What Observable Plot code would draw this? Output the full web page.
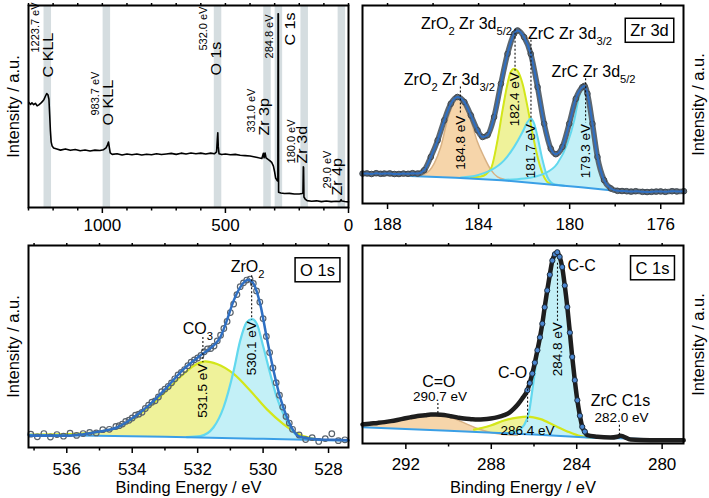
<!DOCTYPE html>
<html><head><meta charset="utf-8">
<script src="https://cdn.jsdelivr.net/npm/d3@7"></script>
<script src="https://cdn.jsdelivr.net/npm/@observablehq/plot@0.6"></script>
<style>
body{margin:0;background:#fff;}
#root{position:relative;width:709px;height:498px;background:#fff;overflow:hidden;}
#root svg{position:absolute;}
</style></head><body><div id="root"></div>
<script>
// ---------------- DATA ----------------
// Survey spectrum [binding energy eV, intensity a.u. (0-100)]
const surveySpectrum = [
[1299,52.1],[1292,51.0],[1286,51.8],[1279,50.9],[1272,51.6],[1265,50.3],[1258,50.8],[1251,51.5],[1244,52.4],[1237,53.5],
[1231,55.2],[1226,56.4],[1221,55.8],[1217,53.6],[1214,46.0],[1211,38.0],[1208,32.5],[1204,30.4],[1198,29.5],[1185,29.0],
[1170,28.4],[1150,29.0],[1130,28.3],[1110,28.7],[1090,28.1],[1070,28.5],[1050,28.0],[1030,28.4],[1010,28.2],[995,28.6],
[985,29.5],[979,31.0],[975,32.4],[972,30.0],[968,27.0],[960,26.3],[940,26.6],[920,26.0],[900,26.5],[880,26.1],[860,26.5],
[840,26.0],[820,26.4],[800,26.1],[780,26.6],[760,26.2],[740,26.5],[720,26.8],[700,26.3],[680,26.9],[660,26.5],[640,27.0],
[620,26.6],[600,26.9],[580,26.5],[560,26.9],[545,26.6],[536,27.5],[533,33.5],[531,37.0],[529,30.0],[526,26.6],[515,26.2],
[500,26.5],[480,26.1],[460,26.3],[440,25.9],[420,25.7],[400,25.5],[380,25.0],[365,24.6],[352,24.3],[346,26.8],[343,24.6],
[339,27.0],[335,24.6],[328,23.9],[320,23.2],[312,22.3],[305,20.5],[300,17.5],[296,14.6],[292,13.8],[289,13.2],[287,14.0],
[286,95.9],[285,95.9],[284,7.6],[275,7.2],[260,6.9],[240,7.0],[220,6.7],[200,6.7],[188,6.9],[185,7.3],[183.5,20.2],
[182.5,19.8],[181,5.2],[176,4.2],[168,3.4],[150,3.1],[130,3.3],[110,2.9],[90,3.2],[70,2.9],[50,3.1],[35,3.0],[30,3.9],
[27,3.2],[15,3.0],[0,2.8]];
const surveyPeakEnergy = [1223.7, 983.7, 532.0, 284.8, 331.0, 180.0, 29.0];
const surveyPeakName   = ["C KLL", "O KLL", "O 1s", "C 1s", "Zr 3p", "Zr 3d", "Zr 4p"];
const surveyPeakText   = ["1223.7 eV", "983.7 eV", "532.0 eV", "284.8 eV", "331.0 eV", "180.0 eV", "29.0 eV"];
const surveyNameY      = [64.4, 40.6, 65.3, 80.2, 35.6, 21.8, 5.9];
const surveyTextY      = [76.7, 45.5, 77.7, 73.8, 37.1, 21.8, 9.4];
const surveyMajorTicks = [1000, 500, 0];
const surveyMinorTicks = [1300, 1200, 1100, 900, 800, 700, 600, 400, 300, 200, 100];

// Zr 3d
const zrMeasured = [
[189.10,15.1],[188.9,15.2],[188.7,14.9],[188.5,15.3],[188.3,15.0],[188.15,15.1],[187.9,15.2],[187.7,14.9],[187.5,14.9],
[187.3,15.1],[187.1,15.0],[186.9,15.3],[186.68,15.1],[186.39,16.8],[186.10,23.5],[185.80,31.9],[185.51,42],[185.22,50.4],
[184.93,53.8],[184.63,51.3],[184.34,44.5],[184.05,37],[183.83,33.6],[183.61,34.5],[183.32,43.7],[183.02,60.5],[182.73,75.6],
[182.44,85.7],[182.29,87.4],[182.0,84],[181.71,75.6],[181.41,58.8],[181.12,40.3],[180.83,27.7],[180.61,24.9],[180.32,28.6],
[180.02,40.3],[179.73,52.9],[179.44,58.8],[179.35,59.4],[179.22,55.5],[179.0,40.3],[178.78,23.5],[178.49,11.8],[178.19,7.6],
[177.90,6.4],[177.7,6.3],[177.5,6.2],[177.3,6.0],[177.1,6.2],[176.8,5.9],[176.6,5.8],[176.4,5.9],[176.2,6.0],[176.0,6.1],
[175.8,5.9],[175.5,6.2],[175.3,6.1],[174.98,6.2]];
const zrBackground = [[187.0,13.9],[185.0,13.0],[183.0,11.8],[181.0,9.7],[179.5,8.2],[178.0,6.4]];
const zrZrO2_32 = [[186.9,13.9],[186.39,14.8],[185.95,20.2],[185.66,28.6],[185.37,42],[185.07,51.3],[184.85,53.8],[184.63,51.3],
[184.34,42],[184.05,31],[183.76,23.5],[183.46,17],[183.17,13.4],[182.88,12.2]];
const zrZrO2_52 = [[184.34,13.1],[183.90,13.6],[183.46,17.6],[183.17,31.9],[182.95,47],[182.73,60.5],[182.59,66.4],[182.44,68.1],
[182.29,67.0],[182.07,60.5],[181.85,48.7],[181.63,35.3],[181.41,23.5],[181.19,15.1],[180.98,10.9],[180.68,9.4]];
const zrZrC_32 = [[184.78,13.1],[184.05,14.3],[183.46,16.8],[182.88,21.8],[182.44,28.6],[182.07,36.1],[181.85,41.2],[181.71,42.9],
[181.56,40.3],[181.41,33.6],[181.19,21.8],[180.98,13.4],[180.68,9.7],[180.24,9.0]];
const zrZrC_52 = [[183.02,11.9],[182.0,12.6],[181.12,15.1],[180.54,20.2],[180.10,30.3],[179.80,42],[179.59,53.8],[179.37,59.2],
[179.19,55.5],[179.0,42],[178.78,25.2],[178.56,13.4],[178.34,7.8],[178.12,6.6]];
const zrAnnotations = [
  {x:184.8, name:"ZrO{2} Zr 3d{3/2}", nameY:62.2, lineTop:58.8, lineBottom:44.8, value:"184.8 eV", valueY:44.3},
  {x:182.4, name:"ZrO{2} Zr 3d{5/2}", nameY:90.8, lineTop:88.0, lineBottom:66.8, value:"182.4 eV", valueY:66.3},
  {x:181.7, name:"ZrC Zr 3d{3/2}",    nameY:85.7, lineTop:82.5, lineBottom:40.6, value:"181.7 eV", valueY:40.1},
  {x:179.3, name:"ZrC Zr 3d{5/2}",    nameY:66.4, lineTop:63.0, lineBottom:40.6, value:"179.3 eV", valueY:40.1}];
const zrMajorTicks = [188, 184, 180, 176];
const zrMinorTicks = [186, 182, 178];

// O 1s
const oMeasured = [
[537.1,6.6],[536.9,5.3],[536.7,6.9],[536.5,5.2],[536.3,6.4],[536.1,5.6],[535.9,7.1],[535.7,6.0],[535.5,6.9],[535.3,7.5],
[535.1,7.2],[534.9,8.8],[534.7,9.0],[534.5,10.4],[534.4,10.8],[534.3,11.6],[534.2,12.9],[534.1,13.5],[534.0,14.6],[533.9,16.0],
[533.8,16.5],[533.7,17.4],[533.6,19.3],[533.5,21.0],[533.4,22.4],[533.3,23.1],[533.2,25.0],[533.1,27.6],[533.0,28.9],[532.9,30.2],
[532.8,32.0],[532.7,34.0],[532.6,35.9],[532.5,37.2],[532.4,38.6],[532.3,40.5],[532.2,42.2],[532.1,43.4],[532.0,44.3],[531.9,45.6],
[531.8,47.4],[531.7,48.8],[531.6,49.0],[531.5,50.2],[531.4,52.8],[531.3,55.6],[531.2,58.9],[531.1,62.4],[531.0,66.8],[530.9,71.0],
[530.8,75.7],[530.7,79.6],[530.6,81.5],[530.5,82.9],[530.4,83.4],[530.3,81.2],[530.2,77.5],[530.1,72.0],[530.0,63.8],[529.9,55.0],
[529.8,47.0],[529.7,39.4],[529.6,32.1],[529.5,25.9],[529.4,20.0],[529.3,15.4],[529.2,12.1],[529.1,9.0],[528.9,6.2],[528.7,3.9],
[528.5,4.9],[528.3,3.0],[528.1,4.4],[527.9,6.8],[527.7,3.4],[527.5,3.8]];
const oFit = [[537.12,5.8],[536.51,5.8],[536.0,5.8],[535.49,6.6],[534.98,7.9],[534.47,9.9],[533.96,14.9],[533.45,21.5],[532.94,29.8],
[532.43,38.8],[531.92,45.5],[531.52,50.4],[531.31,54.5],[531.11,62.8],[530.90,72.7],[530.70,79.3],[530.45,83],[530.29,81],
[530.09,71.1],[529.89,54.5],[529.68,38],[529.48,24.8],[529.27,14.9],[529.07,8.3],[528.87,5.3],[528.36,4.1],[527.85,3.8],[527.39,3.6]];
const oBackground = [[537.17,6.3],[533,5.3],[530,4.3],[527.39,3.3]];
const oCO3 = [[537.12,6.4],[536.0,6.6],[534.98,7.9],[534.47,9.9],[533.96,14.5],[533.45,20.7],[532.94,28.4],[532.43,36.4],[532.03,41.3],
[531.77,42.6],[531.41,41.3],[530.90,36.4],[530.39,28.1],[529.89,19.0],[529.38,11.6],[528.87,6.3],[528.36,4.1]];
const oZrO2 = [[532.33,5.1],[531.92,5.6],[531.52,9.9],[531.21,19.8],[530.90,38],[530.70,52.9],[530.50,62],[530.34,63.6],[530.19,61.2],
[529.99,49.6],[529.78,36.4],[529.58,24.8],[529.38,16.5],[529.17,9.9],[528.87,5.0],[528.36,4.1]];
const oAnnotations = [
  {x:530.35, name:"ZrO{2}", nameY:89.3, lineTop:85.0, lineBottom:63.0, value:"530.1 eV", valueY:62.5},
  {x:531.84, name:"CO{3}",  nameY:58.7, lineTop:54.5, lineBottom:42.0, value:"531.5 eV", valueY:41.5}];
const oMajorTicks = [536, 534, 532, 530, 528];
const oMinorTicks = [537, 535, 533, 531, 529];

// C 1s
const cMeasured = [
[294.03,9.6],[293.7,10.0],[293.32,10.4],[293.0,10.8],[292.70,11.3],[292.4,11.9],[292.08,12.6],[291.8,13.2],[291.45,13.9],
[291.1,14.3],[290.83,14.6],[290.6,14.6],[290.36,14.5],[290.1,14.2],[289.90,13.8],[289.6,13.2],[289.27,12.6],[288.95,12.3],
[288.65,12.1],[288.35,12.2],[288.03,12.6],[287.7,13.3],[287.40,14.3],[287.15,15.6],[286.94,17.6],[286.75,19.8],[286.55,22.7],
[286.31,26.9],[286.2,30.5],[286.08,35.3],[285.96,40.8],[285.84,47.1],[285.72,53.6],[285.61,60.5],[285.5,68.8],[285.38,77.3],
[285.26,85.2],[285.14,92.4],[285.02,95.6],[284.91,96.6],[284.8,94.3],[284.68,89.1],[284.56,79.8],[284.44,68.9],[284.32,56.0],
[284.21,43.7],[284.09,32.0],[283.97,21.8],[283.85,14.0],[283.74,8.4],[283.62,6.0],[283.51,4.2],[283.04,3.4],[282.42,3.0],
[282.10,3.4],[281.95,3.9],[281.79,3.4],[281.48,2.0],[280.55,1.7],[279.8,1.7],[278.99,1.7]];
const cBackground = [[294.03,8.2],[290,6.5],[286,4.5],[283.5,3.0],[282,2.6],[279,1.7]];
const cCO = [[293.95,8.9],[293.01,10.4],[292.08,12.3],[291.14,13.8],[290.52,14.1],[289.90,13.1],[289.27,10.4],[288.65,7.6],
[288.03,5.6],[287.40,4.6],[286.78,4.2]];
const cCdashO = [[288.81,7.0],[288.03,9.1],[287.40,11.6],[286.78,13.1],[286.31,13.6],[285.69,12.3],[285.07,9.2],[284.44,6.1],
[283.82,3.7],[283.35,3.0]];
const cCC = [[287.40,5.0],[286.78,6.4],[286.47,9.2],[286.23,16],[286.08,26.9],[285.84,45.4],[285.61,60.5],[285.38,77.3],
[285.14,91.6],[284.91,95],[284.68,88.2],[284.44,68.1],[284.21,42.9],[283.97,20.2],[283.74,7.6],[283.51,3.7],[283.20,3.0]];
const cAnnotations = [
  {x:284.9, name:"C-C",     nameY:89.9, lineTop:91.0, lineBottom:61.8, value:"284.8 eV", valueY:61.3},
  {x:286.3, name:"C-O",     nameY:35.8, lineTop:31.5, lineBottom:10.9, value:"286.4 eV", valueY:6.4},
  {x:290.5, name:"C=O",     nameY:31.1, lineTop:20.2, lineBottom:15.1, value:"290.7 eV", valueY:23.9},
  {x:282.0, name:"ZrC C1s", nameY:21.6, lineTop:9.2,  lineBottom:3.4,  value:"282.0 eV", valueY:13.0}];
const cMajorTicks = [292, 288, 284, 280];
const cMinorTicks = [290, 286, 282];

// ---------------- STYLE ----------------
const FONT = '"Liberation Sans", Arial, Helvetica, sans-serif';
const FIT = "#2f6fc2", BGLINE = "#3a9fe6", BAND = "#d5dde0";
const ORANGE_FILL = "#f6d5aa", ORANGE_LINE = "#d8b184";
const YELLOW_FILL = "#eff29a", YELLOW_LINE = "#d3e61a";
const CYAN_FILL = "#c3f0f7", CYAN_LINE = "#62d8ee";
const root = document.getElementById("root");
const pts = a => a.map(([x, y]) => ({x, y}));

function axes(major, minor, pad) {
  return [
    Plot.axisX({anchor: "bottom", ticks: major, tickSize: 6, tickPadding: pad, tickFormat: d => String(d), label: null, strokeWidth: 1.5, fontSize: 17}),
    Plot.axisX({anchor: "bottom", ticks: minor, tickSize: 3.5, tickFormat: () => "", label: null, strokeWidth: 1.5}),
    Plot.axisX({anchor: "top", ticks: major.concat(minor), tickSize: 3, tickFormat: () => "", label: null, strokeWidth: 1.5})
  ];
}
function yLabel(side) {
  return Plot.text(["Intensity / a.u."], {text: d => d, frameAnchor: side, dx: side === "left" ? -15 : 15, rotate: -90, textAnchor: "middle", lineAnchor: "middle", fontSize: 16.5});
}
function xTitle(dy) {
  return Plot.text(["Binding Energy / eV"], {text: d => d, frameAnchor: "bottom", dy, textAnchor: "middle", lineAnchor: "middle", fontSize: 16.5});
}
function boxLabel(label, dx, dy) {
  return Plot.text([label], {text: d => d, frameAnchor: "top-right", dx, dy, textAnchor: "middle", lineAnchor: "middle", fontSize: 16.5});
}
const fillC = (d, fill) => Plot.areaY(pts(d), {x: "x", y: "y", fill, curve: "monotone-x"});
const lineC = (d, stroke, w = 2) => Plot.line(pts(d), {x: "x", y: "y", stroke, strokeWidth: w, curve: "monotone-x"});
const cover = d => Plot.areaY(pts(d), {x: "x", y: "y", fill: "white"});

function annotMarks(list, styles) {
  const m = [];
  list.forEach((a, i) => {
    const s = styles[i];
    m.push(Plot.ruleX([a], {x: "x", y1: "lineTop", y2: "lineBottom", stroke: "#111", strokeWidth: 1.1, strokeDasharray: "2,2"}));
    m.push(Plot.text([a], {x: "x", y: "nameY", text: "name", dx: s.nameDx, textAnchor: s.nameAnchor, lineAnchor: "middle", fontSize: 16}));
    if (s.rotate) m.push(Plot.text([a], {x: "x", y: "valueY", text: "value", rotate: -90, textAnchor: "end", lineAnchor: "middle", fontSize: 13.5}));
    else m.push(Plot.text([a], {x: "x", y: "valueY", text: "value", dx: s.valueDx || 0, textAnchor: "middle", lineAnchor: "middle", fontSize: 13.5}));
  });
  return m;
}

function panel(cfg) {
  const svg = Plot.plot({
    width: cfg.w, height: cfg.h,
    marginTop: cfg.mt, marginRight: cfg.mr, marginBottom: cfg.mb, marginLeft: cfg.ml,
    x: {domain: cfg.xDomain, axis: null},
    y: {domain: [0, 100], axis: null},
    style: {fontFamily: FONT, fontSize: "17px", background: "none", color: "#000", overflow: "visible"},
    marks: cfg.marks
  });
  svg.style.left = cfg.left + "px";
  svg.style.top = cfg.top + "px";
  root.appendChild(svg);
  return svg;
}

function subscripts(svg) {
  d3.select(svg).selectAll("text").each(function () {
    const t = this.textContent;
    if (!t.includes("{")) return;
    const parts = t.split(/(\{[^}]*\})/);
    this.textContent = "";
    for (const p of parts) {
      if (!p) continue;
      const ts = document.createElementNS("http://www.w3.org/2000/svg", "tspan");
      if (p.startsWith("{")) { ts.textContent = p.slice(1, -1); ts.style.fontSize = "0.7em"; ts.setAttribute("baseline-shift", "sub"); }
      else ts.textContent = p;
      this.appendChild(ts);
    }
  });
}
function boxAround(svg, label) {
  d3.select(svg).selectAll("text").filter(function () { return this.textContent === label; }).each(function () {
    const b = this.getBBox();
    const r = document.createElementNS("http://www.w3.org/2000/svg", "rect");
    r.setAttribute("x", b.x - 5); r.setAttribute("y", b.y - 3);
    r.setAttribute("width", b.width + 10); r.setAttribute("height", b.height + 6);
    r.setAttribute("fill", "white"); r.setAttribute("stroke", "black"); r.setAttribute("stroke-width", 1.5);
    const tr = this.getAttribute("transform"); if (tr) r.setAttribute("transform", tr);
    this.parentNode.insertBefore(r, this);
  });
}
function stretch(svg, labels, s) {
  d3.select(svg).selectAll("text").filter(function () { return labels.includes(this.textContent); }).each(function () {
    const tr = this.getAttribute("transform") || "";
    this.setAttribute("transform", tr + ` scale(${s},1)`);
  });
}

// ---------------- PANEL A: survey ----------------
const nameDx = [1, 2, -1, 12, -3, -2, -4];
const textDx = [-11, -11, -14, -9, -15, -12, -14];
const surveyLabelMarks = [];
surveyPeakEnergy.forEach((e, i) => {
  surveyLabelMarks.push(Plot.text([{x: e, y: surveyNameY[i], t: surveyPeakName[i]}], {x: "x", y: "y", text: "t", rotate: -90, textAnchor: "start", lineAnchor: "middle", fontSize: 14, dx: nameDx[i]}));
  surveyLabelMarks.push(Plot.text([{x: e, y: surveyTextY[i], t: surveyPeakText[i]}], {x: "x", y: "y", text: "t", rotate: -90, textAnchor: "start", lineAnchor: "middle", fontSize: 10, dx: textDx[i]}));
});
const svgA = panel({
  left: 0, top: 0, w: 360, h: 240, ml: 28, mr: 12, mt: 5, mb: 33, xDomain: [1300, 0],
  marks: [
    Plot.ruleX(surveyPeakEnergy, {x: d => d, stroke: BAND, strokeWidth: 7.5}),
    Plot.line(pts(surveySpectrum), {x: "x", y: "y", stroke: "black", strokeWidth: 1.6}),
    ...surveyLabelMarks,
    ...axes(surveyMajorTicks, surveyMinorTicks, 5),
    yLabel("left"),
    Plot.frame({stroke: "black", strokeWidth: 2})
  ]
});
stretch(svgA, surveyPeakName, 1.15);
stretch(svgA, surveyPeakText, 1.1);

// ---------------- PANEL B: Zr 3d ----------------
const svgB = panel({
  left: 350, top: 0, w: 359, h: 240, ml: 12, mr: 26, mt: 5, mb: 37, xDomain: [189.1, 175],
  marks: [
    fillC(zrZrO2_32, ORANGE_FILL), fillC(zrZrO2_52, YELLOW_FILL), fillC(zrZrC_32, CYAN_FILL), fillC(zrZrC_52, CYAN_FILL),
    cover(zrBackground),
    lineC(zrZrO2_32, ORANGE_LINE, 1.5), lineC(zrZrO2_52, YELLOW_LINE), lineC(zrZrC_52, CYAN_LINE), lineC(zrZrC_32, CYAN_LINE),
    Plot.line(pts(zrBackground), {x: "x", y: "y", stroke: BGLINE, strokeWidth: 2}),
    Plot.line(pts(zrMeasured), {x: "x", y: "y", stroke: "#5c666f", strokeWidth: 5.5, curve: "monotone-x"}),
    Plot.dot(pts(zrMeasured), {x: "x", y: "y", r: 2.8, stroke: "#3f474f", strokeWidth: 1, fill: "none"}),
    Plot.line(pts(zrMeasured), {x: "x", y: "y", stroke: FIT, strokeWidth: 2, curve: "monotone-x"}),
    ...annotMarks(zrAnnotations, [
      {nameDx: -11, nameAnchor: "middle", rotate: true},
      {nameDx: -3, nameAnchor: "end", rotate: true},
      {nameDx: -3, nameAnchor: "start", rotate: true},
      {nameDx: 8, nameAnchor: "middle", rotate: true}]),
    ...axes(zrMajorTicks, zrMinorTicks, 8),
    yLabel("right"),
    boxLabel("Zr 3d", -34, 25.5),
    Plot.frame({stroke: "black", strokeWidth: 2})
  ]
});
subscripts(svgB);
boxAround(svgB, "Zr 3d");

// ---------------- PANEL C: O 1s ----------------
const svgC = panel({
  left: 0, top: 240, w: 360, h: 258, ml: 28, mr: 12, mt: 5, mb: 51, xDomain: [537.17, 527.39],
  marks: [
    fillC(oCO3, YELLOW_FILL), fillC(oZrO2, CYAN_FILL),
    cover(oBackground),
    lineC(oCO3, YELLOW_LINE, 2.2), lineC(oZrO2, CYAN_LINE, 2.2),
    Plot.line(pts(oBackground), {x: "x", y: "y", stroke: BGLINE, strokeWidth: 2}),
    Plot.dot(pts(oMeasured), {x: "x", y: "y", r: 2.8, stroke: "#59626b", strokeWidth: 1.2, fill: "none"}),
    Plot.line(pts(oFit), {x: "x", y: "y", stroke: FIT, strokeWidth: 2.5, curve: "monotone-x"}),
    ...annotMarks(oAnnotations, [
      {nameDx: -4, nameAnchor: "middle", rotate: true},
      {nameDx: -5, nameAnchor: "middle", rotate: true}]),
    ...axes(oMajorTicks, oMinorTicks, 9),
    yLabel("left"),
    xTitle(40),
    boxLabel("O 1s", -31, 25),
    Plot.frame({stroke: "black", strokeWidth: 2})
  ]
});
subscripts(svgC);
boxAround(svgC, "O 1s");

// ---------------- PANEL D: C 1s ----------------
const svgD = panel({
  left: 350, top: 240, w: 359, h: 258, ml: 12, mr: 26, mt: 5, mb: 55, xDomain: [294.03, 279],
  marks: [
    fillC(cCO, ORANGE_FILL), fillC(cCdashO, YELLOW_FILL), fillC(cCC, CYAN_FILL),
    cover(cBackground),
    lineC(cCO, ORANGE_LINE, 1.5), lineC(cCdashO, YELLOW_LINE, 2.2), lineC(cCC, CYAN_LINE, 2.2),
    Plot.line(pts(cBackground), {x: "x", y: "y", stroke: BGLINE, strokeWidth: 2}),
    Plot.line(pts(cMeasured), {x: "x", y: "y", stroke: "#1e1e1e", strokeWidth: 4.5, curve: "monotone-x"}),
    Plot.dot(pts(cMeasured).filter(d => d.x > 283.6 && d.x < 286.4), {x: "x", y: "y", r: 2.6, stroke: "#1e2a36", strokeWidth: 1, fill: "#4a86d0"}),
    ...annotMarks(cAnnotations, [
      {nameDx: 10, nameAnchor: "start", rotate: true},
      {nameDx: -15, nameAnchor: "middle", valueDx: 0},
      {nameDx: 1, nameAnchor: "middle", valueDx: 2},
      {nameDx: 1, nameAnchor: "middle", valueDx: 2}]),
    ...axes(cMajorTicks, cMinorTicks, 8),
    yLabel("right"),
    xTitle(44),
    boxLabel("C 1s", -31, 23),
    Plot.frame({stroke: "black", strokeWidth: 2})
  ]
});
subscripts(svgD);
boxAround(svgD, "C 1s");
</script></body></html>
